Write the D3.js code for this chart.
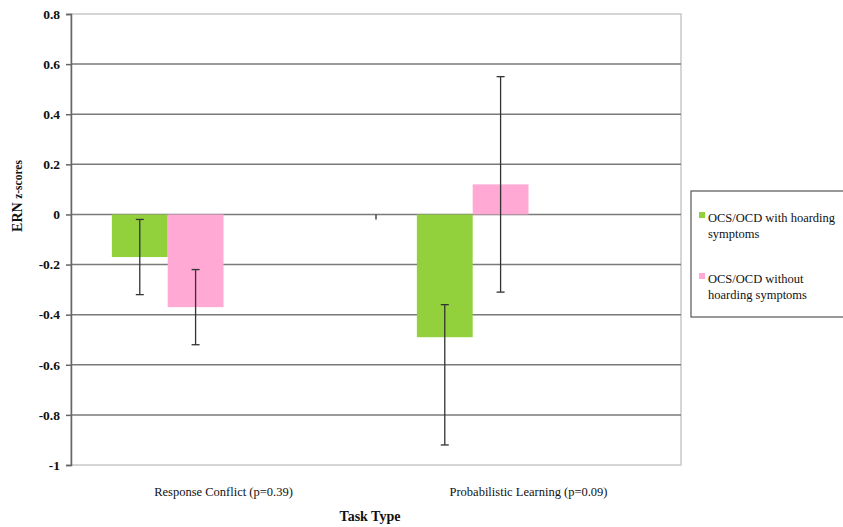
<!DOCTYPE html>
<html>
<head>
<meta charset="utf-8">
<script src="https://cdn.jsdelivr.net/npm/d3@7"></script>
<style>
body { margin: 0; background: #fff; }
svg text { font-family: "Liberation Serif", "DejaVu Serif", serif; fill: #111; }
</style>
</head>
<body>
<svg width="843" height="527"></svg>
<script>
var categories = ["Response Conflict (p=0.39)", "Probabilistic Learning (p=0.09)"];
var seriesNames = ["OCS/OCD with hoarding symptoms", "OCS/OCD without hoarding symptoms"];
var seriesColors = ["#93d13c", "#ffa9d4"];
var withHoarding = [-0.17, -0.49];
var withoutHoarding = [-0.37, 0.12];
var withLow = [-0.32, -0.92];
var withHigh = [-0.02, -0.36];
var withoutLow = [-0.52, -0.31];
var withoutHigh = [-0.22, 0.55];
var yTicks = [0.8, 0.6, 0.4, 0.2, 0, -0.2, -0.4, -0.6, -0.8, -1];

var svg = d3.select("svg");
var plotL = 71, plotR = 681, plotT = 14, plotB = 465;

var x0 = d3.scaleBand()
    .domain(categories)
    .range([plotL, plotR])
    .paddingInner(0.268)
    .paddingOuter(0.134);

// excel left room for 4 bars per group, only 2 are used
var x1 = d3.scaleBand()
    .domain(d3.range(4))
    .range([0, x0.bandwidth()]);

var y = d3.scaleLinear()
    .domain([-1, 0.8])
    .range([plotB, plotT]);

// plot frame
svg.append("rect")
    .attr("x", plotL).attr("y", plotT)
    .attr("width", plotR - plotL).attr("height", plotB - plotT)
    .attr("fill", "none")
    .attr("stroke", "#c8c8c8")
    .attr("stroke-width", 1.5);

// gridlines
svg.append("g")
  .selectAll("line")
  .data(yTicks.filter(function(d) { return d < 0.8 && d > -1; }))
  .enter().append("line")
    .attr("x1", plotL).attr("x2", plotR)
    .attr("y1", function(d) { return y(d); })
    .attr("y2", function(d) { return y(d); })
    .attr("stroke", "#7a7a7a")
    .attr("stroke-width", 1.5);

var data = [];
for (var i = 0; i < categories.length; i++) {
    data.push({cat: categories[i], s: 0, value: withHoarding[i], lo: withLow[i], hi: withHigh[i]});
    data.push({cat: categories[i], s: 1, value: withoutHoarding[i], lo: withoutLow[i], hi: withoutHigh[i]});
}

svg.append("g")
  .selectAll("rect")
  .data(data)
  .enter().append("rect")
    .attr("x", function(d) { return x0(d.cat) + x1(d.s); })
    .attr("width", x1.bandwidth())
    .attr("y", function(d) { return y(Math.max(0, d.value)); })
    .attr("height", function(d) { return Math.abs(y(d.value) - y(0)); })
    .attr("fill", function(d) { return seriesColors[d.s]; });

// error bars
var eb = svg.append("g")
    .attr("stroke", "#333")
    .attr("stroke-width", 1.3);
data.forEach(function(d) {
    var cx = x0(d.cat) + x1(d.s) + x1.bandwidth() / 2;
    eb.append("line").attr("x1", cx).attr("x2", cx).attr("y1", y(d.hi)).attr("y2", y(d.lo));
    eb.append("line").attr("x1", cx - 4).attr("x2", cx + 4).attr("y1", y(d.hi)).attr("y2", y(d.hi));
    eb.append("line").attr("x1", cx - 4).attr("x2", cx + 4).attr("y1", y(d.lo)).attr("y2", y(d.lo));
});

// category boundary tick on zero line
var boundary = x0(categories[1]) - x0.step() * x0.paddingInner() / 2;
svg.append("line")
    .attr("x1", boundary).attr("x2", boundary)
    .attr("y1", y(0)).attr("y2", y(0) + 5)
    .attr("stroke", "#444")
    .attr("stroke-width", 1.5);

// y axis
var yAxis = svg.append("g")
    .attr("transform", "translate(" + plotL + ",0)")
    .call(d3.axisLeft(y).tickValues(yTicks).tickSize(5).tickPadding(6)
        .tickFormat(function(d) { return String(+d.toFixed(1)); }));
yAxis.select(".domain").attr("stroke", "#666").attr("stroke-width", 1.5);
yAxis.selectAll(".tick line").attr("stroke", "#666").attr("stroke-width", 1.5);
yAxis.selectAll(".tick text")
    .style("font-size", "13.5px")
    .style("font-weight", "bold")
    .style("font-family", "'Liberation Serif', serif")
    .attr("fill", "#222");

// category labels
svg.append("g")
  .selectAll("text")
  .data(categories)
  .enter().append("text")
    .attr("x", function(d) { return x0(d) + x0.bandwidth() / 2; })
    .attr("y", 496)
    .attr("text-anchor", "middle")
    .attr("font-size", 12.5)
    .text(function(d) { return d; });

svg.append("text")
    .attr("x", (plotL + plotR) / 2 - 6)
    .attr("y", 521)
    .attr("text-anchor", "middle")
    .attr("font-size", 14)
    .attr("font-weight", "bold")
    .text("Task Type");

var yl = svg.append("text")
    .attr("transform", "translate(22,196) rotate(-90)")
    .attr("text-anchor", "middle")
    .attr("font-weight", "bold");
yl.append("tspan").attr("font-size", 14).text("ERN ");
yl.append("tspan").attr("font-size", 11.5).text("z-scores");

// legend
var lg = svg.append("g");
lg.append("rect")
    .attr("x", 691).attr("y", 191)
    .attr("width", 160).attr("height", 126)
    .attr("fill", "#fff")
    .attr("stroke", "#555")
    .attr("stroke-width", 1.2);

var legendLines = [["OCS/OCD with hoarding", "symptoms"], ["OCS/OCD without", "hoarding symptoms"]];
var legendY = [222, 283];
seriesNames.forEach(function(name, i) {
    lg.append("rect")
        .attr("x", 699).attr("y", legendY[i] - 10)
        .attr("width", 6).attr("height", 6)
        .attr("fill", seriesColors[i]);
    legendLines[i].forEach(function(t, j) {
        lg.append("text")
            .attr("x", 708)
            .attr("y", legendY[i] + j * 16)
            .attr("font-size", 12.5)
            .text(t);
    });
});
</script>
</body>
</html>
